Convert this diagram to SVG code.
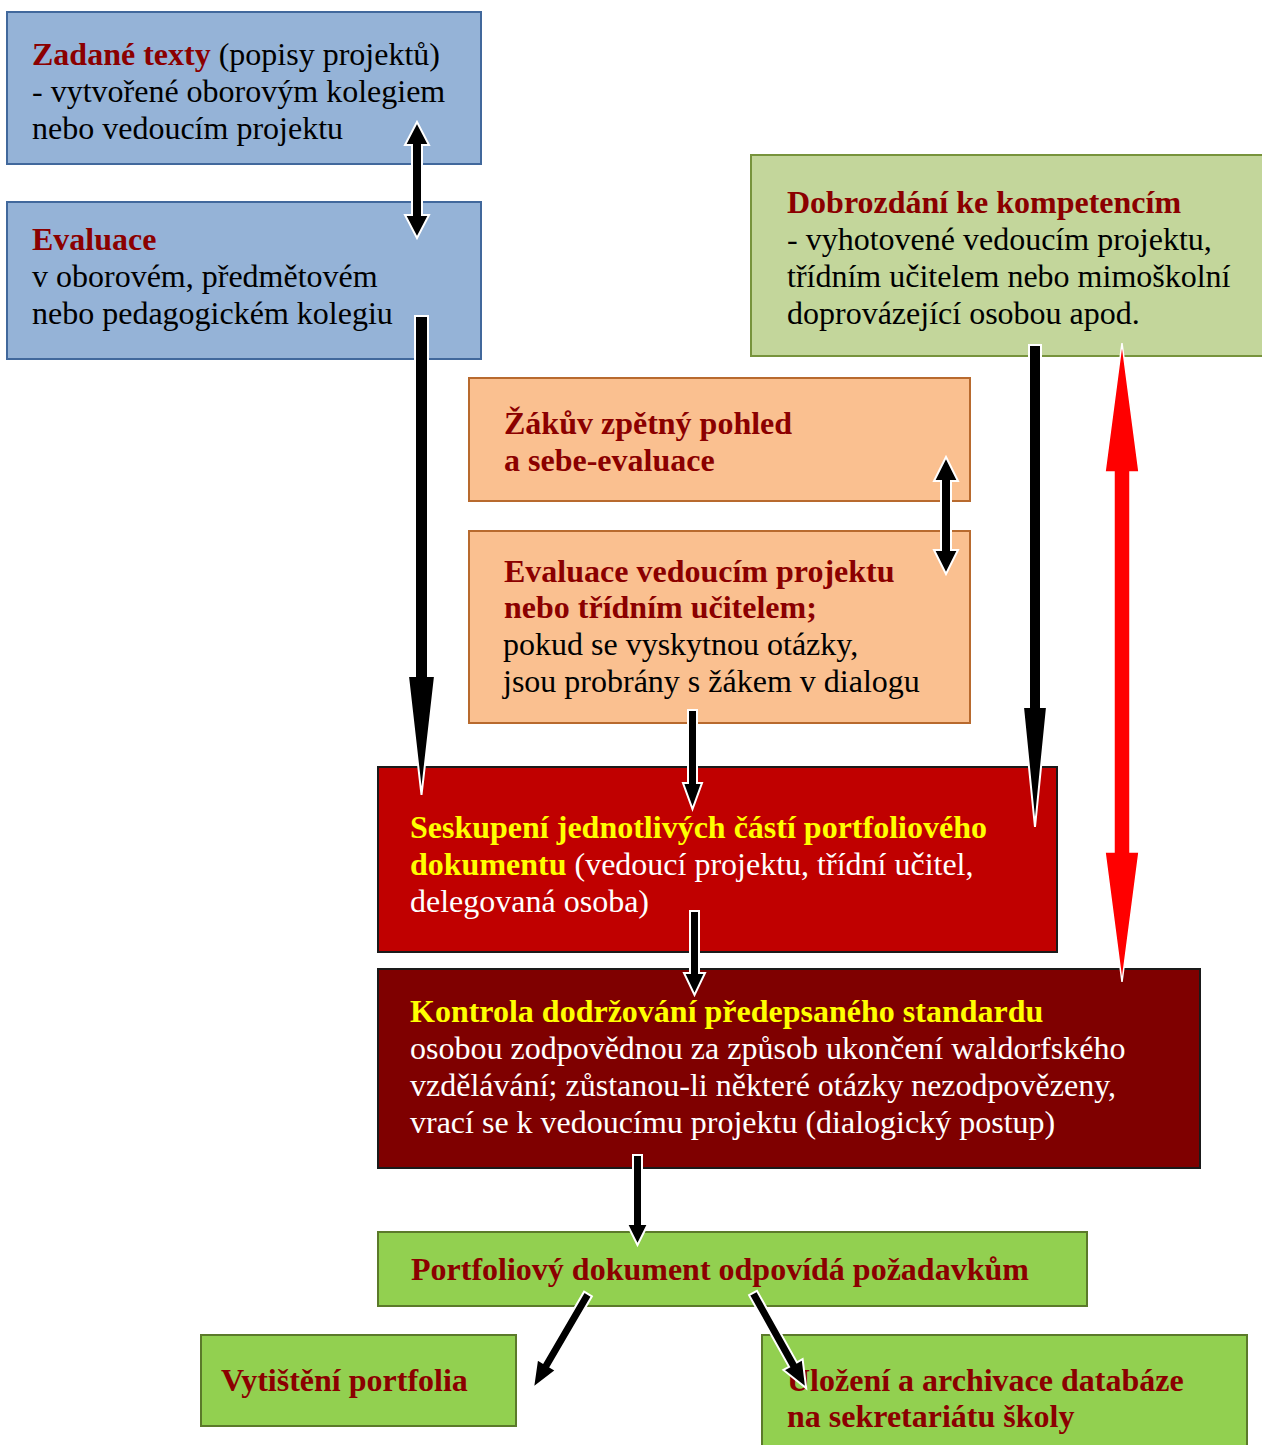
<svg xmlns="http://www.w3.org/2000/svg" width="1262" height="1445" viewBox="0 0 1262 1445">
<style>
text{font-family:"Liberation Serif","Times New Roman",serif;font-size:32px;}
.b{font-weight:bold;}
.dr{fill:#8b0000;}
.k{fill:#000;}
.w{fill:#fff;}
.y{fill:#ffff00;}
.blue{fill:#95b3d7;stroke:#41689c;stroke-width:2;}
.lgreen{fill:#c3d69b;stroke:#77933c;stroke-width:2;}
.orange{fill:#fac090;stroke:#b86a2e;stroke-width:2;}
.red{fill:#c00000;stroke:#1a1a1a;stroke-width:2;}
.dark{fill:#7f0000;stroke:#1a1a1a;stroke-width:2;}
.green{fill:#92d050;stroke:#5b7a2a;stroke-width:2;}
.arr{fill:#000;stroke:#fff;stroke-width:2;stroke-linejoin:miter;}
.rarr{fill:#ff0000;stroke:#fff;stroke-width:1.5;}
</style>
<rect width="1262" height="1445" fill="#fff"/>
<g id="zadane-texty">
<rect class="blue" x="7" y="12" width="474" height="152"/>
<text x="32" y="65"><tspan class="b dr">Zadané texty</tspan><tspan class="k"> (popisy projektů)</tspan></text>
<text class="k" x="32" y="102">- vytvořené oborovým kolegiem</text>
<text class="k" x="32" y="139">nebo vedoucím projektu</text>
</g>
<g id="evaluace-kolegium">
<rect class="blue" x="7" y="202" width="474" height="157"/>
<text class="b dr" x="32" y="250">Evaluace</text>
<text class="k" x="32" y="287">v oborovém, předmětovém</text>
<text class="k" x="32" y="324">nebo pedagogickém kolegiu</text>
</g>
<g id="dobrozdani">
<rect class="lgreen" x="751" y="155" width="515" height="201"/>
<text class="b dr" x="787" y="213">Dobrozdání ke kompetencím</text>
<text class="k" x="787" y="250">- vyhotovené vedoucím projektu,</text>
<text class="k" x="787" y="287">třídním učitelem nebo mimoškolní</text>
<text class="k" x="787" y="324">doprovázející osobou apod.</text>
</g>
<g id="zpetny-pohled">
<rect class="orange" x="469" y="378" width="501" height="123"/>
<text class="b dr" x="504" y="434">Žákův zpětný pohled</text>
<text class="b dr" x="504" y="471">a sebe-evaluace</text>
</g>
<g id="evaluace-vedouci">
<rect class="orange" x="469" y="531" width="501" height="192"/>
<text class="b dr" x="504" y="582">Evaluace vedoucím projektu</text>
<text class="b dr" x="504" y="618">nebo třídním učitelem;</text>
<text class="k" x="503" y="655">pokud se vyskytnou otázky,</text>
<text class="k" x="503" y="692">jsou probrány s žákem v dialogu</text>
</g>
<g id="seskupeni">
<rect class="red" x="378" y="767" width="679" height="185"/>
<text class="b y" x="410" y="838">Seskupení jednotlivých částí portfoliového</text>
<text x="410" y="875"><tspan class="b y">dokumentu</tspan><tspan class="w"> (vedoucí projektu, třídní učitel,</tspan></text>
<text class="w" x="410" y="912">delegovaná osoba)</text>
</g>
<g id="kontrola">
<rect class="dark" x="378" y="969" width="822" height="199"/>
<text class="b y" x="410" y="1022">Kontrola dodržování předepsaného standardu</text>
<text class="w" x="410" y="1059">osobou zodpovědnou za způsob ukončení waldorfského</text>
<text class="w" x="410" y="1096">vzdělávání; zůstanou-li některé otázky nezodpovězeny,</text>
<text class="w" x="410" y="1133">vrací se k vedoucímu projektu (dialogický postup)</text>
</g>
<g id="portfoliovy-dokument">
<rect class="green" x="378" y="1232" width="709" height="74"/>
<text class="b dr" x="411" y="1280">Portfoliový dokument odpovídá požadavkům</text>
</g>
<g id="vytisteni">
<rect class="green" x="201" y="1335" width="315" height="91"/>
<text class="b dr" x="221" y="1391">Vytištění portfolia</text>
</g>
<g id="ulozeni">
<rect class="green" x="762" y="1335" width="485" height="120"/>
<text class="b dr" x="787" y="1391">Uložení a archivace databáze</text>
<text class="b dr" x="787" y="1427">na sekretariátu školy</text>
</g>
<g id="connectors">
<polygon class="arr" points="417,122 429,145 422,145 422,215 429,215 417,238 405,215 412,215 412,145 405,145"/>
<polygon class="arr" points="415,316 428,316 428,676 435,676 421.5,795 408,676 415,676"/>
<polygon class="arr" points="1029,345 1041,345 1041,707 1047,707 1035,827 1023,707 1029,707"/>
<polygon class="rarr" points="1122,343 1139,472 1130,472 1130,852 1139,852 1122,982 1105,852 1114,852 1114,472 1105,472"/>
<polygon class="arr" points="946,457 958,481 951,481 951,550 958,550 946,574 934,550 941,550 941,481 934,481"/>
<polygon class="arr" points="688,710 697,710 697,783 702,783 692.5,809 683,783 688,783"/>
<polygon class="arr" points="690,911 699,911 699,973 705,973 694.5,995 684,973 690,973"/>
<polygon class="arr" points="633,1155 642,1155 642,1224 648,1224 637.5,1245 627,1224 633,1224"/>
<polygon class="arr" transform="translate(588,1294) rotate(30.3)" points="-4.5,0 4.5,0 4.5,82 11,82 0,109 -11,82 -4.5,82"/>
<polygon class="arr" transform="translate(753,1293) rotate(-29.2)" points="-4.5,0 4.5,0 4.5,82 11,82 0,109 -11,82 -4.5,82"/>
</g>
</svg>
